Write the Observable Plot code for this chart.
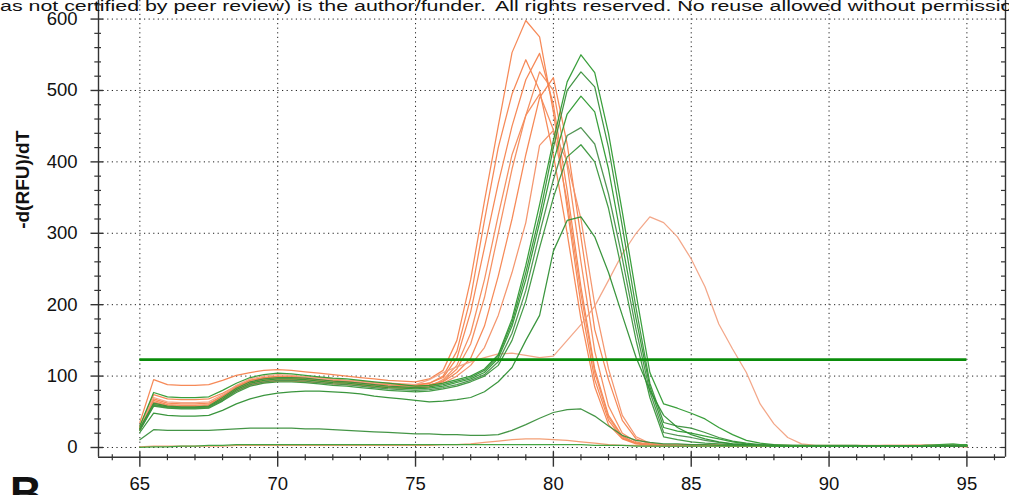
<!DOCTYPE html>
<html>
<head>
<meta charset="utf-8">
<script src="https://cdn.jsdelivr.net/npm/d3@7"></script>
<script src="https://cdn.jsdelivr.net/npm/@observablehq/plot@0.6"></script>
<style>
  html, body { margin: 0; padding: 0; background: #fff; overflow: hidden; }
  #chart svg { display: block; }
</style>
</head>
<body>
<div id="chart"></div>
<script>
// Melt-curve derivative, -d(RFU)/dT, sampled every 0.5 °C from 65 to 95 °C
const temps = [
  65, 65.5, 66, 66.5, 67, 67.5, 68, 68.5, 69, 69.5,
  70, 70.5, 71, 71.5, 72, 72.5, 73, 73.5, 74, 74.5,
  75, 75.5, 76, 76.5, 77, 77.5, 78, 78.5, 79, 79.5,
  80, 80.5, 81, 81.5, 82, 82.5, 83, 83.5, 84, 84.5,
  85, 85.5, 86, 86.5, 87, 87.5, 88, 88.5, 89, 89.5,
  90, 90.5, 91, 91.5, 92, 92.5, 93, 93.5, 94, 94.5,
  95
];

// Orange wells
const orangeA = [
  35, 95, 88, 87, 87, 88, 94, 101, 105, 108,
  109, 108, 106, 104, 102, 100, 98, 96, 94, 93,
  92, 96, 108, 150, 235, 345, 450, 553, 598, 575,
  470, 335, 200, 95, 38, 13, 6, 4, 3, 3,
  3, 3, 3, 3, 3, 3, 2, 2, 2, 2,
  2, 2, 2, 2, 2, 2, 2, 3, 3, 3,
  2
];
const orangeB = [
  30, 74, 68, 67, 67, 68, 76, 86, 94, 98,
  100, 100, 99, 98, 96, 94, 93, 91, 90, 89,
  88, 90, 98, 125, 190, 280, 370, 450, 515, 552,
  480, 360, 225, 110, 45, 16, 6, 4, 3, 3,
  3, 3, 3, 3, 3, 3, 3, 2, 2, 2,
  2, 2, 2, 2, 2, 2, 3, 3, 3, 2,
  2
];
const orangeC = [
  28, 68, 62, 61, 61, 62, 72, 84, 92, 96,
  97, 97, 96, 95, 93, 92, 91, 89, 88, 87,
  87, 90, 100, 135, 210, 318, 420, 495, 543, 500,
  410, 300, 180, 85, 32, 12, 5, 3, 3, 3,
  3, 3, 3, 3, 2, 2, 2, 2, 2, 2,
  2, 2, 2, 2, 2, 2, 2, 2, 2, 2,
  1
];
const orangeD = [
  25, 63, 58, 57, 57, 58, 69, 81, 89, 93,
  95, 95, 94, 93, 91, 90, 89, 87, 86, 85,
  85, 87, 93, 110, 145, 210, 300, 390, 465, 526,
  500, 395, 260, 135, 58, 20, 8, 4, 3, 3,
  3, 3, 3, 3, 3, 2, 2, 2, 2, 2,
  2, 2, 2, 2, 3, 3, 3, 3, 2, 2,
  2
];
const orangeE = [
  27, 66, 60, 59, 59, 60, 72, 85, 94, 98,
  99, 99, 97, 95, 94, 93, 91, 89, 88, 87,
  86, 88, 92, 105, 125, 170, 240, 320, 410, 490,
  518, 425, 295, 165, 95, 38, 12, 5, 3, 3,
  3, 3, 3, 3, 3, 3, 3, 3, 2, 2,
  2, 2, 2, 2, 2, 2, 2, 2, 2, 2,
  2
];
const orangeF = [
  24, 61, 57, 56, 56, 57, 67, 79, 87, 91,
  93, 93, 92, 91, 89, 88, 87, 85, 84, 83,
  83, 85, 95, 115, 160, 235, 325, 410, 465, 495,
  445, 345, 215, 105, 42, 15, 6, 4, 3, 3,
  3, 3, 3, 2, 2, 2, 2, 2, 2, 2,
  2, 2, 2, 2, 2, 2, 2, 2, 2, 2,
  2
];
const orangeG = [
  26, 64, 59, 58, 58, 59, 70, 82, 91, 95,
  96, 96, 95, 93, 91, 90, 88, 87, 85, 84,
  84, 85, 90, 100, 115, 140, 185, 245, 315, 423,
  444, 400, 320, 200, 110, 45, 15, 6, 4, 3,
  3, 3, 3, 3, 3, 3, 2, 2, 2, 2,
  2, 2, 2, 2, 2, 2, 2, 2, 3, 3,
  2
];
const orangeLate = [
  28, 70, 64, 63, 63, 64, 74, 87, 96, 100,
  102, 101, 99, 97, 95, 94, 92, 90, 89, 88,
  88, 95, 105, 113, 120, 126, 131, 132, 129, 126,
  128, 150, 172, 198, 234, 271, 300, 323, 315, 295,
  264, 225, 173, 138, 105, 61, 33, 14, 5, 3,
  3, 3, 3, 3, 3, 3, 3, 3, 3, 3,
  3
];
const orangeLow = [
  1, 2, 2, 2, 2, 2, 2, 3, 3, 3,
  3, 3, 3, 3, 3, 3, 3, 3, 3, 3,
  3, 3, 4, 4, 5, 7, 9, 11, 12, 12,
  11, 10, 8, 6, 4, 3, 3, 2, 2, 2,
  2, 2, 2, 2, 2, 2, 2, 2, 2, 2,
  2, 2, 2, 2, 2, 2, 2, 2, 2, 2,
  2
];

// Green wells
const green1 = [
  30, 77, 71, 70, 70, 71, 80, 90, 98, 102,
  104, 103, 101, 99, 97, 96, 94, 92, 90, 88,
  86, 87, 90, 95, 100, 110, 130, 180, 255, 340,
  430, 512, 550, 525, 440, 330, 215, 105, 61, 55,
  48, 40, 28, 18, 10, 6, 4, 3, 3, 3,
  3, 3, 3, 2, 2, 2, 2, 2, 3, 3,
  3
];
const green2 = [
  27, 62, 58, 57, 57, 58, 70, 83, 92, 96,
  98, 98, 97, 95, 93, 92, 90, 88, 86, 85,
  84, 85, 88, 93, 98, 108, 128, 175, 245, 325,
  420, 500, 526, 505, 420, 310, 195, 90, 35, 30,
  27, 21, 14, 9, 6, 4, 3, 3, 3, 2,
  2, 2, 2, 2, 2, 2, 2, 3, 3, 3,
  3
];
const green3 = [
  26, 60, 57, 56, 56, 57, 68, 81, 90, 94,
  96, 96, 95, 93, 91, 90, 88, 86, 84, 83,
  82, 83, 86, 91, 96, 105, 125, 170, 235, 315,
  400, 467, 492, 470, 390, 285, 180, 85, 28, 23,
  20, 16, 12, 8, 5, 3, 3, 3, 2, 2,
  2, 2, 2, 2, 2, 2, 2, 2, 2, 3,
  4
];
const green4 = [
  25, 59, 56, 55, 55, 56, 66, 79, 88, 92,
  94, 94, 93, 91, 89, 88, 86, 84, 82, 81,
  80, 81, 84, 88, 94, 102, 120, 160, 220, 300,
  375, 437, 448, 425, 355, 265, 165, 78, 21, 17,
  14, 10, 7, 5, 4, 3, 3, 2, 2, 2,
  2, 2, 2, 2, 2, 2, 2, 2, 3, 3,
  3
];
const green5 = [
  24, 58, 55, 54, 54, 55, 65, 77, 86, 90,
  92, 92, 91, 89, 87, 86, 84, 82, 80, 79,
  78, 79, 82, 86, 92, 100, 115, 150, 205, 280,
  350, 407, 424, 400, 335, 245, 150, 70, 15, 11,
  8, 6, 5, 4, 3, 3, 2, 2, 2, 2,
  2, 2, 2, 2, 2, 2, 2, 2, 2, 2,
  2
];
const greenSlow = [
  21, 48, 45, 44, 44, 45, 52, 61, 68, 73,
  76, 78, 79, 79, 78, 77, 75, 72, 70, 68,
  66, 64, 65, 67, 70, 78, 92, 112, 150, 185,
  275, 318, 323, 295, 245, 185, 126, 80, 45, 28,
  18, 12, 8, 5, 4, 3, 3, 2, 2, 2,
  2, 2, 2, 2, 2, 2, 2, 2, 2, 2,
  2
];
const greenSmall = [
  11, 25, 24, 24, 24, 24, 25, 26, 27, 27,
  27, 27, 26, 26, 25, 24, 23, 22, 21, 20,
  19, 19, 18, 18, 17, 17, 18, 24, 32, 41,
  49, 53, 54, 44, 30, 17, 10, 7, 5, 5,
  4, 4, 3, 3, 3, 3, 2, 2, 2, 2,
  2, 2, 2, 2, 2, 2, 2, 2, 2, 2,
  2
];
const greenLow = [
  0, 1, 1, 2, 2, 3, 3, 4, 4, 4,
  4, 4, 4, 4, 4, 4, 4, 4, 4, 4,
  4, 4, 4, 4, 4, 4, 4, 4, 4, 4,
  4, 4, 4, 3, 3, 3, 2, 2, 2, 2,
  2, 2, 2, 2, 2, 2, 2, 2, 2, 2,
  2, 2, 2, 2, 2, 2, 2, 3, 4, 5,
  3
];

// Well list in drawing order, with trace colours
const wells = [
  {name: "O-A", values: orangeA, color: "#f5834e"},
  {name: "O-B", values: orangeB, color: "#f5834e"},
  {name: "O-C", values: orangeC, color: "#f5834e"},
  {name: "O-D", values: orangeD, color: "#f48a58"},
  {name: "O-E", values: orangeE, color: "#f5834e"},
  {name: "O-F", values: orangeF, color: "#f48a58"},
  {name: "O-G", values: orangeG, color: "#f39066"},
  {name: "O-late", values: orangeLate, color: "#f2a283"},
  {name: "O-low", values: orangeLow, color: "#f29a6e"},
  {name: "G-1", values: green1, color: "#2e9a30"},
  {name: "G-2", values: green2, color: "#3a8f3c"},
  {name: "G-3", values: green3, color: "#2e9a30"},
  {name: "G-4", values: green4, color: "#4a8f4c"},
  {name: "G-5", values: green5, color: "#3a963c"},
  {name: "G-slow", values: greenSlow, color: "#2f8f33"},
  {name: "G-small", values: greenSmall, color: "#3a8f3c"},
  {name: "G-low", values: greenLow, color: "#3aa03a"}
];

// Threshold line
const threshold = 123;
const thresholdSpan = [65, 95];

// Axes
const xDomain = [63.5, 96.4];
const yDomain = [-13.6, 626];
const xMajorTicks = [65, 70, 75, 80, 85, 90, 95];
const xMinorTicks = [64, 66, 67, 68, 69, 71, 72, 73, 74, 76, 77, 78, 79, 81, 82, 83, 84, 86, 87, 88, 89, 91, 92, 93, 94, 96];
const yMajorTicks = [0, 100, 200, 300, 400, 500, 600];
const yMinorTicks = [20, 40, 60, 80, 120, 140, 160, 180, 220, 240, 260, 280, 320, 340, 360, 380, 420, 440, 460, 480, 520, 540, 560, 580, 620];
const yAllTicks = [0, 20, 40, 60, 80, 100, 120, 140, 160, 180, 200, 220, 240, 260, 280, 300, 320, 340, 360, 380, 400, 420, 440, 460, 480, 500, 520, 540, 560, 580, 600, 620];
const yLabel = "-d(RFU)/dT";

const headerLeft = "as not certified by peer review) is the author/funder.";
const headerRight = "All rights reserved. No reuse allowed without permission.";
const panelLetter = "B";

const axisColor = "#333";
const gridColor = "#222";

const curveMarks = wells.map(w =>
  Plot.line(temps.map((t, i) => ({t, v: w.values[i]})), {
    x: "t", y: "v", stroke: w.color, strokeWidth: 1.25, strokeOpacity: 0.95, curve: "linear"
  })
);

const chart = Plot.plot({
  width: 1009,
  height: 495,
  marginLeft: 98,
  marginRight: 4,
  marginTop: 0,
  marginBottom: 38.3,
  x: {domain: xDomain, axis: null},
  y: {domain: yDomain, axis: null},
  style: {fontFamily: "'Liberation Sans', Arial, sans-serif", background: "#fff", color: "#111"},
  marks: [
    // dotted grid
    Plot.ruleX(xMajorTicks, {x: d => d, stroke: gridColor, strokeWidth: 1, strokeDasharray: "1.2,3.4"}),
    Plot.ruleY(yMajorTicks, {y: d => d, stroke: gridColor, strokeWidth: 1, strokeDasharray: "1.2,3.4"}),
    // traces
    ...curveMarks,
    // threshold
    Plot.ruleY([threshold], {x1: thresholdSpan[0], x2: thresholdSpan[1], stroke: "#0a8c0a", strokeWidth: 2.6}),
    // frame lines
    Plot.ruleY([yDomain[0]], {stroke: axisColor, strokeWidth: 1.4}),
    Plot.ruleX([xDomain[0]], {stroke: axisColor, strokeWidth: 1.4}),
    Plot.ruleX([xDomain[1]], {stroke: axisColor, strokeWidth: 1.4}),
    // x ticks
    Plot.ruleX(xMajorTicks, {x: d => d, y1: yDomain[0], y2: yDomain[0], insetTop: -5, insetBottom: -10, stroke: axisColor, strokeWidth: 1.4}),
    Plot.ruleX(xMinorTicks, {x: d => d, y1: yDomain[0], y2: yDomain[0], insetTop: -2.5, insetBottom: -3.5, stroke: axisColor, strokeWidth: 1.2}),
    // y ticks (left)
    Plot.ruleY(yMajorTicks, {y: d => d, x1: xDomain[0], x2: xDomain[0], insetLeft: -7.5, insetRight: -5, stroke: axisColor, strokeWidth: 1.4}),
    Plot.ruleY(yMinorTicks, {y: d => d, x1: xDomain[0], x2: xDomain[0], insetLeft: -3.7, insetRight: -3, stroke: axisColor, strokeWidth: 1.2}),
    // y ticks (right frame, inward)
    Plot.ruleY(yAllTicks, {y: d => d, x1: xDomain[1], x2: xDomain[1], insetLeft: -4, insetRight: 0, stroke: axisColor, strokeWidth: 1.2}),
    // tick labels
    Plot.text(xMajorTicks, {x: d => d, y: yDomain[0], text: d => String(d), dy: 26.7, fontSize: 18.5, fill: "#111"}),
    Plot.text(yMajorTicks, {x: xDomain[0], y: d => d, text: d => String(d), dx: -21, textAnchor: "end", fontSize: 18.5, fill: "#111"}),
    // y axis title
    Plot.text([yLabel], {frameAnchor: "left", text: d => d, dx: -76, rotate: -90, fontSize: 19, fontWeight: "bold", fill: "#111"})
  ]
});

document.getElementById("chart").appendChild(chart);

// Running header along the top edge and the panel letter
const svg = d3.select(chart);
svg.append("text")
  .attr("x", 0).attr("y", 10.5)
  .attr("text-anchor", "start")
  .attr("font-family", "'Liberation Sans', Arial, sans-serif")
  .attr("font-size", 14)
  .attr("textLength", 486).attr("lengthAdjust", "spacingAndGlyphs")
  .attr("fill", "#111")
  .text(headerLeft);
svg.append("text")
  .attr("x", 495).attr("y", 10.5)
  .attr("text-anchor", "start")
  .attr("font-family", "'Liberation Sans', Arial, sans-serif")
  .attr("font-size", 14)
  .attr("textLength", 535).attr("lengthAdjust", "spacingAndGlyphs")
  .attr("fill", "#111")
  .text(headerRight);
svg.append("text")
  .attr("x", 10).attr("y", 508)
  .attr("text-anchor", "start")
  .attr("font-family", "'Liberation Sans', Arial, sans-serif")
  .attr("font-size", 44).attr("font-weight", "bold")
  .attr("fill", "#111")
  .text(panelLetter);
</script>
</body>
</html>
